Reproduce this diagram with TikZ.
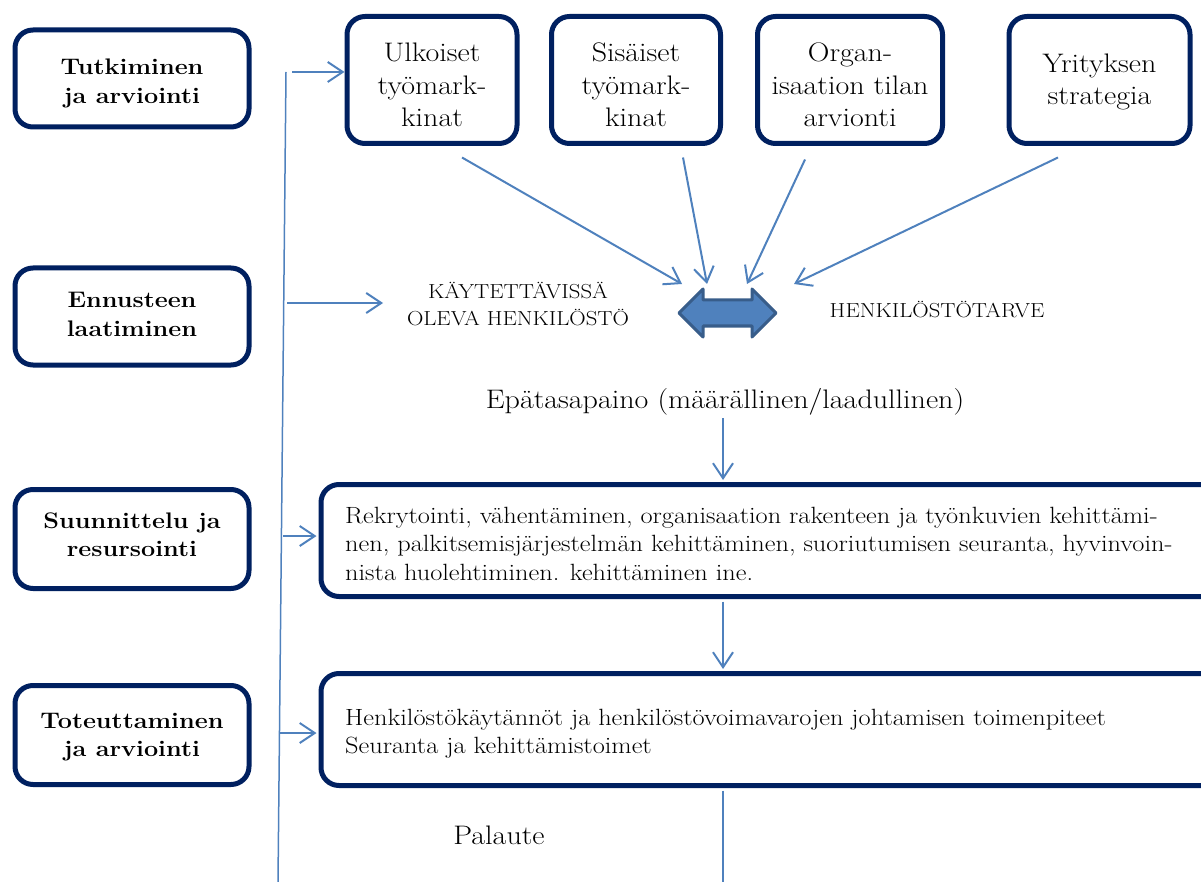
\documentclass[tikz,border=0pt]{standalone}
\usepackage{fontspec}
\setmainfont{Latin Modern Roman}[FakeStretch=1.12]
\usetikzlibrary{arrows.meta,calc}
\definecolor{navy}{RGB}{0,32,96}
\definecolor{lblue}{RGB}{79,129,189}
\definecolor{dblue}{RGB}{56,93,138}
\begin{document}
\begin{tikzpicture}[x=1pt,y=-1pt,
  box/.style={draw=navy, line width=5pt, rounded corners=18pt, fill=white, inner sep=0pt},
  conn/.style={draw=lblue, line width=2pt, -{Straight Barb[length=15pt,width=20pt,line width=2pt]}},
  feed/.style={draw=lblue, line width=1.5pt},
  txt/.style={inner sep=0pt, anchor=base, align=center},
  toptxt/.style={txt, font=\fontsize{26.8}{32.5}\selectfont},
  lefttxt/.style={txt, font=\bfseries\fontsize{22.5}{28.5}\selectfont},
  captxt/.style={txt, font=\fontsize{20.3}{26}\selectfont},
  bigtxt/.style={txt, font=\fontsize{26.8}{30}\selectfont},
  boxtxt/.style={inner sep=0pt, anchor=base west, align=left, font=\fontsize{23.5}{28.5}\selectfont}
]
\useasboundingbox (0,0) rectangle (1201,882);

% left stage boxes
\node[box, minimum width=234pt, minimum height=97pt] (b1) at (132,78.5) {};
\node[lefttxt] (b1t) at (132,103.5) {Tutkiminen\\ja arviointi};
\node[box, minimum width=234pt, minimum height=97pt] (b2) at (132,316.5) {};
\node[lefttxt] (b2t) at (132,336.5) {Ennusteen\\laatiminen};
\node[box, minimum width=234pt, minimum height=99pt] (b3) at (132,539) {};
\node[lefttxt] (b3t) at (132,556.5) {Suunnittelu ja\\resursointi};
\node[box, minimum width=234pt, minimum height=99pt] (b4) at (132,735) {};
\node[lefttxt] (b4t) at (132,756.5) {Toteuttaminen\\ja arviointi};

% top boxes
\node[box, minimum width=170pt, minimum height=127pt] (ulk) at (432,80) {};
\node[toptxt] (ulkt) at (432,127) {Ulkoiset\\työmark-\\kinat};
\node[box, minimum width=169pt, minimum height=127pt] (sis) at (636,80) {};
\node[toptxt] (sist) at (636,127) {Sisäiset\\työmark-\\kinat};
\node[box, minimum width=185pt, minimum height=127pt] (org) at (850,80) {};
\node[toptxt] (orgt) at (850,127) {Organ-\\isaation tilan\\arvionti};
\node[box, minimum width=181pt, minimum height=127pt] (yri) at (1099.5,80) {};
\node[toptxt] (yrit) at (1099.5,105) {Yrityksen\\strategia};

% middle texts
\node[captxt] (kay) at (518,325) {KÄYTETTÄVISSÄ\\OLEVA HENKILÖSTÖ};
\node[captxt] (tar) at (937,317) {HENKILÖSTÖTARVE};
\node[bigtxt] (epa) at (725,408) {Epätasapaino (määrällinen/laadullinen)};

% wide boxes
\node[box, minimum width=899pt, minimum height=112pt] (bA) at (770.5,540.5) {};
\node[boxtxt] (bAt) at (345,580) {Rekrytointi, vähentäminen, organisaation rakenteen ja työnkuvien kehittämi-\\nen, palkitsemisjärjestelmän kehittäminen, suoriutumisen seuranta, hyvinvoin-\\nista huolehtiminen. kehittäminen ine.};
\node[box, minimum width=899pt, minimum height=112pt] (bB) at (770.5,729.5) {};
\node[boxtxt] (bBt) at (345,753.5) {Henkilöstökäytännöt ja henkilöstövoimavarojen johtamisen toimenpiteet\\Seuranta ja kehittämistoimet};

\node[bigtxt] (pal) at (499,844) {Palaute};

% left feedback line
\coordinate (Ltop) at (286,72);
\coordinate (Lbot) at (278,882);
\draw[feed] (Ltop) -- (Lbot);
\coordinate (s1) at (292,72);
\coordinate (s2) at (287,303);
\coordinate (e2) at (383,303);
\coordinate (s3) at (283,536);
\coordinate (s4) at (280,733);
\draw[conn] (s1) -- (s1 -| ulk.west);
\draw[conn] (s2) -- (e2);
\draw[conn] (s3) -- ([xshift=-2pt]s3 -| bA.west);
\draw[conn] (s4) -- ([xshift=-2pt]s4 -| bB.west);

% converging arrows
\coordinate (t1) at (682,284);
\coordinate (t2) at (707,284);
\coordinate (t3) at (747,284);
\coordinate (t4) at (794,284);
\draw[conn] ($(ulk.south)+(30,11.5)$) -- (t1);
\draw[conn] ($(sis.south)+(47,11.5)$) -- (t2);
\draw[conn] ($(org.south)+(-45,13.5)$) -- (t3);
\draw[conn] ($(yri.south)+(-41.5,11.5)$) -- (t4);

% double block arrow
\draw[draw=dblue, fill=lblue, line width=3pt, line join=round]
  (679,313) -- (703,289) -- (703,300) -- (752,300) -- (752,289) -- (776,313)
  -- (752,337) -- (752,326) -- (703,326) -- (703,337) -- cycle;

% vertical flow
\coordinate (vx) at (723,418);
\draw[conn] (vx) -- ([yshift=2pt]vx |- bA.north);
\draw[conn] ([yshift=-2.5pt]vx |- bA.south) -- ([yshift=2pt]vx |- bB.north);
\draw[feed] ([yshift=-2.5pt]vx |- bB.south) -- (vx |- Lbot);
\end{tikzpicture}
\end{document}
